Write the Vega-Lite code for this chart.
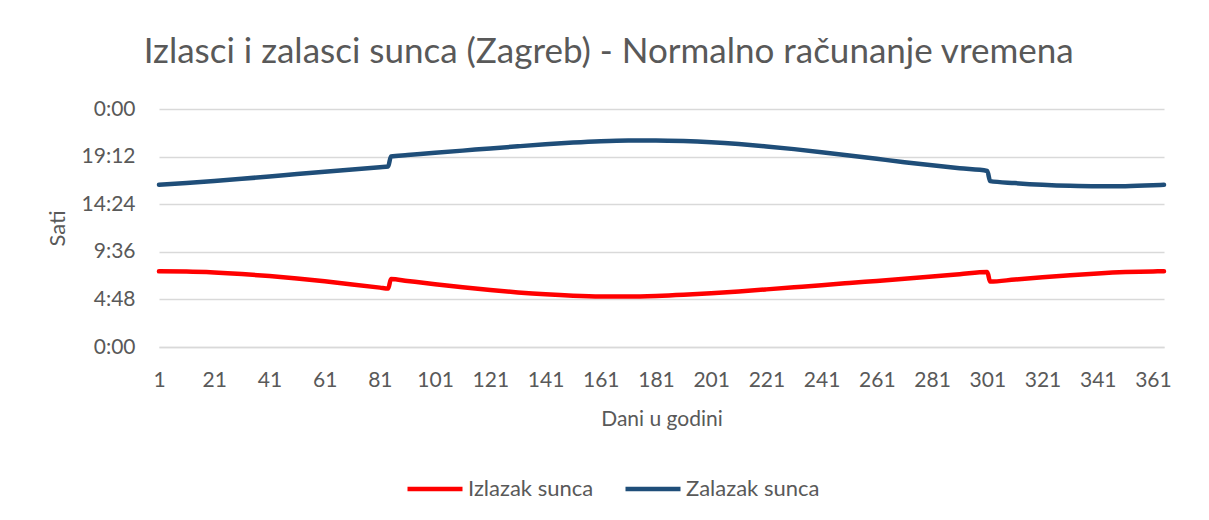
{
  "$schema": "https://vega.github.io/schema/vega-lite/v6.json",
  "width": 1005,
  "height": 238,
  "autosize": "none",
  "padding": {"left": 159, "top": 109, "right": 45, "bottom": 173},
  "background": "white",
  "title": {
    "text": "Izlasci i zalasci sunca (Zagreb) - Normalno računanje vremena",
    "fontSize": 35,
    "font": "Lato",
    "fontWeight": "normal",
    "color": "#595959",
    "anchor": "middle",
    "frame": "bounds",
    "offset": 28
  },
  "data": {
    "values": [
      {"dan": 1, "Izlazak sunca": 0.3178, "Zalazak sunca": 0.6817},
      {"dan": 11, "Izlazak sunca": 0.3168, "Zalazak sunca": 0.6886},
      {"dan": 21, "Izlazak sunca": 0.3130, "Zalazak sunca": 0.6971},
      {"dan": 31, "Izlazak sunca": 0.3067, "Zalazak sunca": 0.7066},
      {"dan": 41, "Izlazak sunca": 0.2982, "Zalazak sunca": 0.7165},
      {"dan": 51, "Izlazak sunca": 0.2878, "Zalazak sunca": 0.7266},
      {"dan": 61, "Izlazak sunca": 0.2759, "Zalazak sunca": 0.7365},
      {"dan": 71, "Izlazak sunca": 0.2630, "Zalazak sunca": 0.7461},
      {"dan": 81, "Izlazak sunca": 0.2495, "Zalazak sunca": 0.7555},
      {"dan": 84, "Izlazak sunca": 0.2453, "Zalazak sunca": 0.7583},
      {"dan": 85, "Izlazak sunca": 0.2856, "Zalazak sunca": 0.8009},
      {"dan": 91, "Izlazak sunca": 0.2774, "Zalazak sunca": 0.8065},
      {"dan": 101, "Izlazak sunca": 0.2639, "Zalazak sunca": 0.8158},
      {"dan": 111, "Izlazak sunca": 0.2511, "Zalazak sunca": 0.8251},
      {"dan": 121, "Izlazak sunca": 0.2394, "Zalazak sunca": 0.8344},
      {"dan": 131, "Izlazak sunca": 0.2294, "Zalazak sunca": 0.8433},
      {"dan": 141, "Izlazak sunca": 0.2213, "Zalazak sunca": 0.8517},
      {"dan": 151, "Izlazak sunca": 0.2155, "Zalazak sunca": 0.8589},
      {"dan": 161, "Izlazak sunca": 0.2125, "Zalazak sunca": 0.8644},
      {"dan": 171, "Izlazak sunca": 0.2122, "Zalazak sunca": 0.8675},
      {"dan": 181, "Izlazak sunca": 0.2145, "Zalazak sunca": 0.8680},
      {"dan": 191, "Izlazak sunca": 0.2192, "Zalazak sunca": 0.8656},
      {"dan": 201, "Izlazak sunca": 0.2257, "Zalazak sunca": 0.8605},
      {"dan": 211, "Izlazak sunca": 0.2335, "Zalazak sunca": 0.8528},
      {"dan": 221, "Izlazak sunca": 0.2421, "Zalazak sunca": 0.8429},
      {"dan": 231, "Izlazak sunca": 0.2509, "Zalazak sunca": 0.8314},
      {"dan": 241, "Izlazak sunca": 0.2599, "Zalazak sunca": 0.8185},
      {"dan": 251, "Izlazak sunca": 0.2688, "Zalazak sunca": 0.8048},
      {"dan": 261, "Izlazak sunca": 0.2777, "Zalazak sunca": 0.7907},
      {"dan": 271, "Izlazak sunca": 0.2868, "Zalazak sunca": 0.7767},
      {"dan": 281, "Izlazak sunca": 0.2960, "Zalazak sunca": 0.7633},
      {"dan": 291, "Izlazak sunca": 0.3056, "Zalazak sunca": 0.7508},
      {"dan": 301, "Izlazak sunca": 0.3154, "Zalazak sunca": 0.7397},
      {"dan": 302, "Izlazak sunca": 0.2747, "Zalazak sunca": 0.6970},
      {"dan": 311, "Izlazak sunca": 0.2835, "Zalazak sunca": 0.6887},
      {"dan": 321, "Izlazak sunca": 0.2931, "Zalazak sunca": 0.6816},
      {"dan": 331, "Izlazak sunca": 0.3018, "Zalazak sunca": 0.6770},
      {"dan": 341, "Izlazak sunca": 0.3092, "Zalazak sunca": 0.6750},
      {"dan": 351, "Izlazak sunca": 0.3147, "Zalazak sunca": 0.6758},
      {"dan": 361, "Izlazak sunca": 0.3177, "Zalazak sunca": 0.6794},
      {"dan": 365, "Izlazak sunca": 0.3181, "Zalazak sunca": 0.6815}
    ]
  },
  "transform": [{"fold": ["Izlazak sunca", "Zalazak sunca"], "as": ["serija", "vrijeme"]}],
  "mark": {"type": "line", "strokeWidth": 4.5, "interpolate": "monotone", "strokeCap": "round", "strokeJoin": "round"},
  "encoding": {
    "x": {
      "field": "dan",
      "type": "quantitative",
      "scale": {"domain": [1, 365], "nice": false, "zero": false},
      "axis": {
        "values": [1, 21, 41, 61, 81, 101, 121, 141, 161, 181, 201, 221, 241, 261, 281, 301, 321, 341, 361],
        "title": "Dani u godini",
        "grid": false,
        "ticks": false,
        "domain": true,
        "domainColor": "#d9d9d9",
        "domainWidth": 1.5,
        "labelFontSize": 21,
        "labelColor": "#595959",
        "labelPadding": 22,
        "labelFlush": false,
        "titleFontSize": 21,
        "titleFontWeight": "normal",
        "titleColor": "#595959",
        "titlePadding": 18
      }
    },
    "y": {
      "field": "vrijeme",
      "type": "quantitative",
      "scale": {"domain": [0, 1], "nice": false},
      "axis": {
        "values": [0, 0.2, 0.4, 0.6, 0.8, 1],
        "labelExpr": "utcFormat(datum.value * 86400000, '%-H:%M')",
        "title": "Sati",
        "grid": true,
        "gridColor": "#d9d9d9",
        "gridWidth": 1.5,
        "domain": false,
        "ticks": false,
        "labelFontSize": 21,
        "labelColor": "#595959",
        "labelPadding": 24,
        "titleFontSize": 22,
        "titleFontWeight": "normal",
        "titleColor": "#595959",
        "titlePadding": 12
      }
    },
    "color": {
      "field": "serija",
      "type": "nominal",
      "scale": {"domain": ["Izlazak sunca", "Zalazak sunca"], "range": ["#ff0000", "#1f4e79"]},
      "legend": {
        "orient": "none",
        "legendX": 246,
        "legendY": 350,
        "direction": "horizontal",
        "title": null,
        "symbolType": "stroke",
        "symbolSize": 3025,
        "symbolStrokeWidth": 4.5,
        "labelFontSize": 22,
        "labelColor": "#595959",
        "labelOffset": 3,
        "columnPadding": 22,
        "padding": 0
      }
    }
  },
  "config": {"view": {"stroke": null}, "font": "Lato"}
}
